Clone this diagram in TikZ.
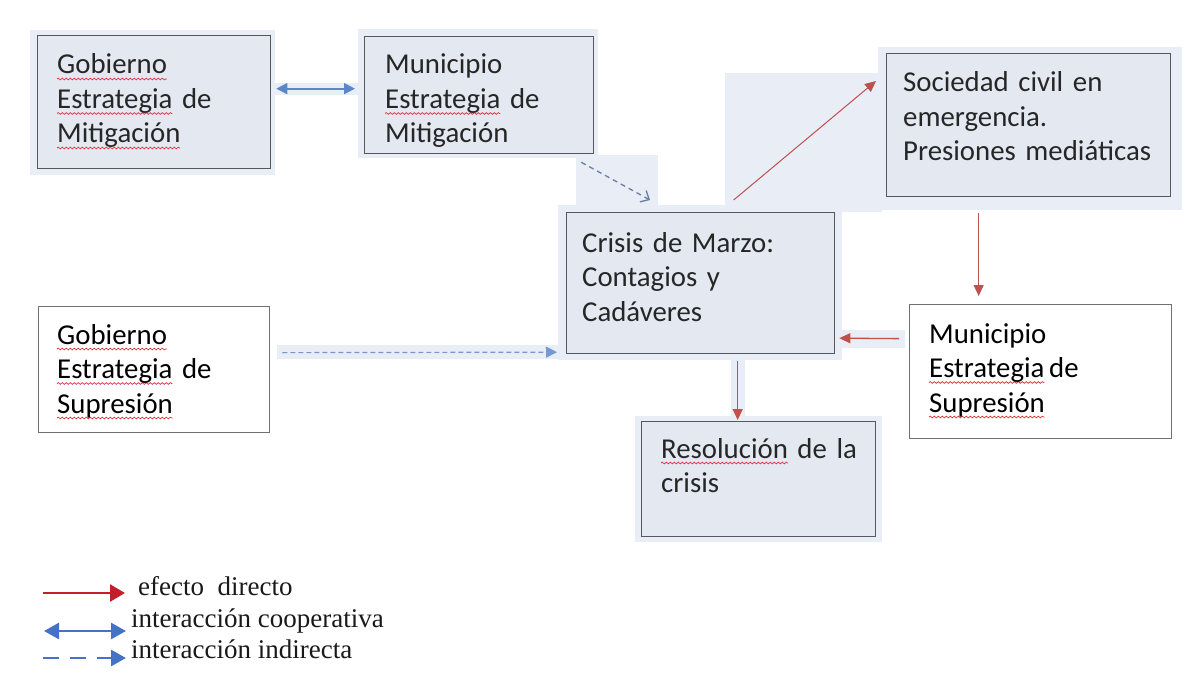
\documentclass[tikz,border=0pt]{standalone}
\usepackage{fontspec}
\setmainfont{Carlito}
\newfontfamily\legfont{Liberation Serif}
\usetikzlibrary{arrows.meta,decorations.pathmorphing}
\definecolor{boxfill}{HTML}{E3E8F1}
\definecolor{patch}{HTML}{E9EDF5}
\definecolor{boxline}{HTML}{55585D}
\definecolor{redarr}{HTML}{C0504D}
\definecolor{bluearr}{HTML}{5B87C8}
\definecolor{legred}{HTML}{C41E2A}
\definecolor{legblue}{HTML}{4472C4}
\definecolor{dashgray}{HTML}{6A7FA3}
\definecolor{spell}{HTML}{E0303A}
\newlength\wGob \newlength\wEst \newlength\wMit \newlength\wSup \newlength\wRes
\newcommand\boxfont{\fontsize{28.8}{34.5}\selectfont}
\tikzset{
  bluebox/.style={draw=boxline, line width=1.3pt, fill=boxfill, inner sep=0pt, anchor=north west},
  whitebox/.style={draw=boxline!85, line width=1.3pt, fill=white, inner sep=0pt, anchor=north west},
  txt/.style={inner sep=0pt, anchor=base west, text width=320pt, align=left,
     font=\boxfont, text=black!85},
  legtxt/.style={inner sep=0pt, anchor=base west, font=\legfont\fontsize{27}{30}\selectfont, text=black!90},
  redeff/.style={draw=redarr, line width=1.3pt, -{Triangle[length=11pt,width=10pt]}},
  coop/.style={draw=bluearr, line width=1.8pt, {Triangle[length=11pt,width=11pt]}-{Triangle[length=11pt,width=11pt]}},
  indir/.style={draw=bluearr!85, line width=1.2pt, dash pattern=on 5pt off 3pt, -{Triangle[length=11pt,width=11pt]}},
  indirgray/.style={draw=dashgray, line width=1.3pt, dash pattern=on 5pt off 4pt, -{Straight Barb[length=7pt,width=13pt]}},
  spellline/.style={draw=spell, line width=0.7pt, decorate, decoration={snake, segment length=4pt, amplitude=0.9pt}},
}
\begin{document}
\settowidth\wGob{\boxfont Gobierno}%
\settowidth\wEst{\boxfont Estrategia}%
\settowidth\wMit{\boxfont Mitigación}%
\settowidth\wSup{\boxfont Supresión}%
\settowidth\wRes{\boxfont Resolución}%
\begin{tikzpicture}[x=1pt,y=-1pt]
\useasboundingbox (0,0) rectangle (1200,693);
% pale patches
\fill[patch] (30,30) rectangle (275,175);
\fill[patch] (358,29) rectangle (598,158);
\fill[patch] (878,47) rectangle (1182,210);
\fill[patch] (725,73) rectangle (882,212);
\fill[patch] (576,155) rectangle (658,212);
\fill[patch] (558,205) rectangle (842,360);
\fill[patch] (635,416) rectangle (882,542);
\fill[patch] (277,345) rectangle (562,359);
\fill[patch] (272,83) rectangle (360,95);
\fill[patch] (838,330) rectangle (905,348);
\fill[patch] (731,355) rectangle (745,420);
% boxes
\node[bluebox, minimum width=233pt, minimum height=133pt] (g1) at (37,35) {};
\node[bluebox, minimum width=229pt, minimum height=117pt] (m1) at (364,36) {};
\node[bluebox, minimum width=284pt, minimum height=143pt] (soc) at (886,53) {};
\node[bluebox, minimum width=268pt, minimum height=141pt] (cri) at (566,212) {};
\node[whitebox, minimum width=231pt, minimum height=126pt] (g2) at (38,306) {};
\node[whitebox, minimum width=262pt, minimum height=134pt] (m2) at (909,304) {};
\node[bluebox, minimum width=234pt, minimum height=115pt] (res) at (641,421) {};
% spelling squiggles
\draw[spellline] (57,79) -- ++(\wGob,0);
\draw[spellline] (57,113.5) -- ++(\wEst,0);
\draw[spellline] (57,148) -- ++(\wMit,0);
\draw[spellline] (385,113.5) -- ++(\wEst,0);
\draw[spellline] (57,349) -- ++(\wGob,0);
\draw[spellline] (57,383.5) -- ++(\wEst,0);
\draw[spellline] (57,418) -- ++(\wSup,0);
\draw[spellline] (929,382.5) -- ++(\wEst,0);
\draw[spellline] (929,417) -- ++(\wSup,0);
\draw[spellline] (661,463) -- ++(\wRes,0);
% texts
\node[txt] (g1t) at (57,74) {Gobierno\\Estrategia de\\Mitigación};
\node[txt] (m1t) at (385,74) {Municipio\\Estrategia de\\Mitigación};
\node[txt] (soct) at (903,92) {Sociedad civil en\\emergencia.\\Presiones mediáticas};
\node[txt] (crit) at (582,252) {Crisis de Marzo:\\Contagios y\\Cadáveres};
\node[txt, text=black] (g2t) at (57,344) {Gobierno\\Estrategia de\\Supresión};
\node[txt, text=black] (m2t) at (929,343) {Municipio\\Estrategia\,de\\Supresión};
\node[txt] (rest) at (661,458) {Resolución de la\\crisis};
% connectors
\draw[coop] ([shift={(5,-13.5)}]g1.east) -- ([shift={(-9,-6.5)}]m1.west);
\draw[indirgray] ([shift={(-13,8)}]m1.south east) -- ([shift={(84,-12)}]cri.north west);
\draw[redeff, line width=1pt] ([shift={(33,-12)}]cri.north) -- ([shift={(-10,28)}]soc.north west);
\draw[redeff] ([shift={(-50,16)}]soc.south) -- ([shift={(-62,-8)}]m2.north);
\draw[redeff] ([shift={(-10,-33)}]m2.west) -- ([shift={(4,55)}]cri.east);
\draw[redeff] ([shift={(37,7)}]cri.south) -- ([shift={(-21,-1)}]res.north);
\draw[indir] ([shift={(12,-17)}]g2.east) -- ([shift={(-9,69)}]cri.west);
% legend
\coordinate (l1a) at (43,593); \coordinate (l1b) at (125,593);
\coordinate (l2a) at (44,631); \coordinate (l2b) at (126,631);
\coordinate (l3a) at (43,658); \coordinate (l3b) at (126,658);
\draw[legred, line width=2.6pt, -{Triangle[length=15pt,width=17pt]}] (l1a) -- (l1b);
\draw[legblue, line width=2.6pt, {Triangle[length=15pt,width=16pt]}-{Triangle[length=15pt,width=16pt]}] (l2a) -- (l2b);
\draw[legblue, line width=2.6pt, dash pattern=on 16pt off 11pt, -{Triangle[length=15pt,width=16pt]}] (l3a) -- (l3b);
\node[legtxt] (lt1) at (138,595) {efecto~ directo};
\node[legtxt] (lt2) at (131,627) {interacción cooperativa};
\node[legtxt] (lt3) at (131,658) {interacción indirecta};
\end{tikzpicture}
\end{document}
